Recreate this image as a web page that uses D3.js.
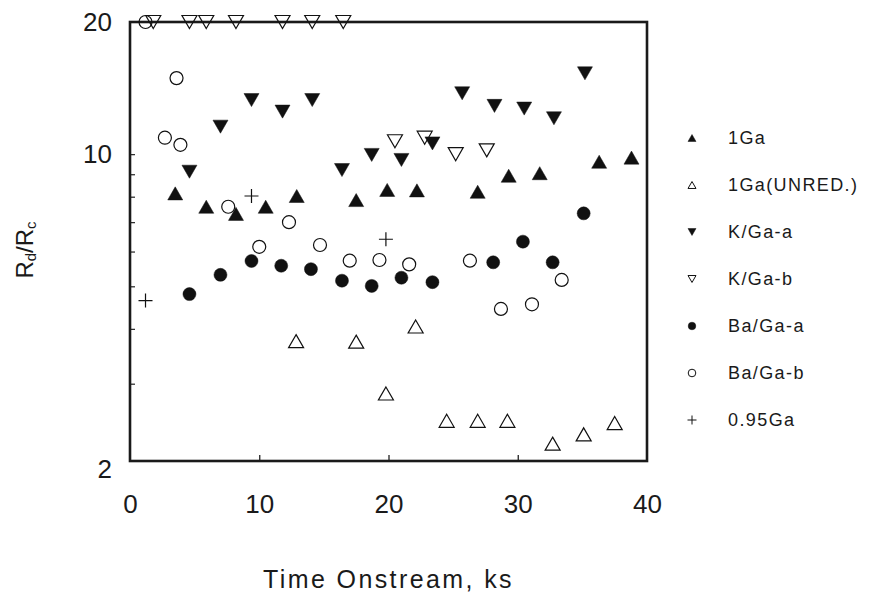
<!DOCTYPE html>
<html>
<head>
<meta charset="utf-8">
<script src="https://cdn.jsdelivr.net/npm/d3@7"></script>
<style>
  body { margin: 0; background: #fff; }
  svg { display: block; }
  text { font-family: "Liberation Sans", Arial, sans-serif; fill: #1a1a1a; }
</style>
</head>
<body>
<svg id="chart" width="871" height="595"></svg>
<script>
"use strict";
// values (time in ks, ratio Rd/Rc)
const ga1X = [3.5, 5.9, 8.2, 10.5, 12.9, 17.5, 19.9, 22.2, 26.9, 29.3, 31.7, 36.3, 38.8];
const ga1Y = [8.14, 7.59, 7.31, 7.59, 8.03, 7.86, 8.29, 8.27, 8.21, 8.93, 9.05, 9.61, 9.82];
const unredX = [12.85, 17.5, 19.8, 22.1, 24.5, 26.9, 29.2, 32.7, 35.1, 37.5];
const unredY = [3.75, 3.74, 2.85, 4.05, 2.47, 2.47, 2.47, 2.19, 2.30, 2.44];
const kgaAX = [4.6, 7.0, 9.4, 11.8, 14.1, 16.4, 18.7, 21.0, 23.4, 25.7, 28.2, 30.5, 32.8, 35.2];
const kgaAY = [9.12, 11.55, 13.28, 12.5, 13.28, 9.2, 9.96, 9.7, 10.58, 13.76, 12.88, 12.7, 12.07, 15.28];
const kgaBX = [1.8, 4.6, 5.9, 8.2, 11.8, 14.1, 16.5, 20.5, 22.8, 25.2, 27.6];
const kgaBY = [20, 20, 20, 20, 20, 20, 20, 10.7, 10.9, 10.0, 10.2];
const bagaAX = [4.6, 7.0, 9.4, 11.7, 14.0, 16.4, 18.7, 21.0, 23.4, 28.1, 30.4, 32.7, 35.1];
const bagaAY = [4.80, 5.31, 5.71, 5.57, 5.47, 5.15, 5.01, 5.23, 5.11, 5.67, 6.32, 5.67, 7.33];
const bagaBX = [1.2, 2.7, 3.6, 3.9, 7.6, 10.0, 12.3, 14.7, 17.0, 19.3, 21.6, 26.3, 28.7, 31.1, 33.4];
const bagaBY = [20, 10.9, 14.9, 10.5, 7.59, 6.15, 7.0, 6.21, 5.72, 5.74, 5.61, 5.72, 4.44, 4.55, 5.17];
const ga095X = [1.2, 9.4, 19.8];
const ga095Y = [4.64, 8.03, 6.4];

const xTicks = [0, 10, 20, 30, 40];
const yTicks = [2, 10, 20];
const yMinor = [3, 4, 5, 6, 7, 8, 9];

// marker shapes, centred on their bounding box
function tri(up, w) {
    const h = w * 0.87;
    const s = up ? 1 : -1;
    return `M0,${-s * h / 2}L${w / 2},${s * h / 2}L${-w / 2},${s * h / 2}Z`;
}
function plus(w) {
    return `M${-w / 2},0H${w / 2}M0,${-w / 2}V${w / 2}`;
}
function circ(r) {
    return d3.symbol(d3.symbolCircle, Math.PI * r * r)();
}

const series = [
    { name: '1Ga', xs: ga1X, ys: ga1Y, kind: 'triUp', filled: true },
    { name: '1Ga(UNRED.)', xs: unredX, ys: unredY, kind: 'triUp', filled: false },
    { name: 'K/Ga-a', xs: kgaAX, ys: kgaAY, kind: 'triDown', filled: true },
    { name: 'K/Ga-b', xs: kgaBX, ys: kgaBY, kind: 'triDown', filled: false },
    { name: 'Ba/Ga-a', xs: bagaAX, ys: bagaAY, kind: 'circle', filled: true },
    { name: 'Ba/Ga-b', xs: bagaBX, ys: bagaBY, kind: 'circle', filled: false },
    { name: '0.95Ga', xs: ga095X, ys: ga095Y, kind: 'plus', filled: false }
];

function shape(kind, big) {
    if (kind === 'triUp') return tri(true, big ? 15 : 8);
    if (kind === 'triDown') return tri(false, big ? 15 : 8);
    if (kind === 'circle') return circ(big ? 6.5 : 3.8);
    return plus(big ? 14 : 9);
}

const svg = d3.select('#chart');
const plotL = 130, plotR = 647, plotT = 22, plotB = 461;

const x = d3.scaleLinear().domain([0, 40]).range([plotL, plotR]);
const y = d3.scaleLog().domain([2, 20]).range([plotB, plotT]);

// x axis: ticks point up into the frame
const xAxis = svg.append('g')
    .attr('transform', `translate(0,${plotB})`)
    .call(d3.axisBottom(x).tickValues(xTicks).tickSize(-6).tickPadding(34).tickFormat(d3.format('d')));
xAxis.select('.domain').remove();
xAxis.selectAll('.tick line').attr('stroke', '#222').attr('stroke-width', 1.3)
    .filter(d => d === 0 || d === 40).remove();
xAxis.selectAll('text').attr('font-size', 26).attr('fill', '#1a1a1a')
    .attr('font-family', '"Liberation Sans", Arial, sans-serif');

// y axis (log): major labels + minor ticks inside
const yAxis = svg.append('g')
    .attr('transform', `translate(${plotL},0)`)
    .call(d3.axisLeft(y).tickValues(yTicks).tickSize(0).tickPadding(18).tickFormat(d3.format('d')));
yAxis.select('.domain').remove();
yAxis.selectAll('text').attr('font-size', 26).attr('fill', '#1a1a1a')
    .attr('font-family', '"Liberation Sans", Arial, sans-serif');
// the bottom label sits a little below its tick in the original
yAxis.selectAll('text').filter(d => d === 2).attr('dy', '0.65em');

svg.append('g')
    .attr('transform', `translate(${plotL},0)`)
    .call(d3.axisRight(y).tickValues(yMinor.concat([10])).tickSize(5).tickFormat(''))
    .call(g => g.select('.domain').remove())
    .selectAll('line').attr('stroke', '#222').attr('stroke-width', 1.2);

// frame
svg.append('rect')
    .attr('x', plotL).attr('y', plotT)
    .attr('width', plotR - plotL).attr('height', plotB - plotT)
    .attr('fill', 'none').attr('stroke', '#1a1a1a').attr('stroke-width', 2.6);

// points
series.forEach(s => {
    const pts = s.xs.map((v, i) => [v, s.ys[i]]);
    svg.append('g').selectAll('path')
        .data(pts)
        .enter()
        .append('path')
        .attr('transform', d => `translate(${x(d[0])},${y(d[1])})`)
        .attr('d', shape(s.kind, true))
        .attr('fill', s.filled ? '#111' : 'none')
        .attr('stroke', '#111')
        .attr('stroke-width', s.filled ? 0.5 : 1.2);
});

// legend
const legY = d3.scaleLinear().domain([0, series.length - 1]).range([138, 420]);
const leg = svg.append('g');
series.forEach((s, i) => {
    leg.append('path')
        .attr('transform', `translate(692,${legY(i)})`)
        .attr('d', shape(s.kind, false))
        .attr('fill', s.filled ? '#111' : 'none')
        .attr('stroke', '#111')
        .attr('stroke-width', s.filled ? 0.5 : 1);
    leg.append('text')
        .attr('x', 728).attr('y', legY(i)).attr('dy', '0.35em')
        .attr('font-size', 18).attr('letter-spacing', 1.4)
        .text(s.name);
});

// axis titles
svg.append('text')
    .attr('x', x(20)).attr('y', 588)
    .attr('text-anchor', 'middle')
    .attr('font-size', 25).attr('letter-spacing', 2.4)
    .text('Time Onstream, ks');

const yt = svg.append('text')
    .attr('transform', 'translate(33,250) rotate(-90)')
    .attr('text-anchor', 'middle')
    .attr('font-size', 24);
yt.append('tspan').text('R');
yt.append('tspan').attr('font-size', 15).attr('dy', 3).text('d');
yt.append('tspan').attr('dy', -3).text('/R');
yt.append('tspan').attr('font-size', 15).attr('dy', 3).text('c');
</script>
</body>
</html>
